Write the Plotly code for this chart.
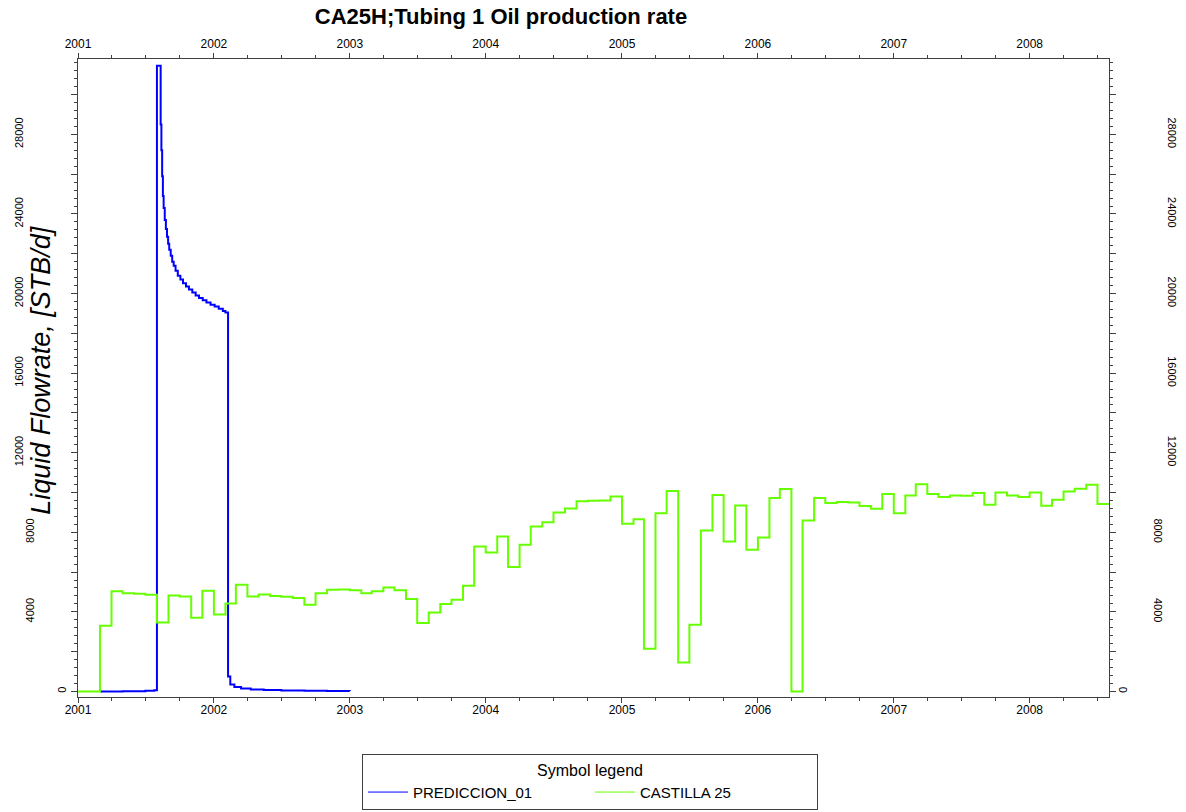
import plotly.graph_objects as go

FONT = "Liberation Sans, Arial, sans-serif"

# PREDICCION_01 - simulated oil rate (STB/d), step data
pred_dates = ['2001-03-01', '2001-05-01', '2001-07-01', '2001-07-25', '2001-08-01',
              '2001-08-11', '2001-08-13', '2001-08-15', '2001-08-17', '2001-08-19',
              '2001-08-22', '2001-08-25', '2001-08-28', '2001-08-31', '2001-09-03',
              '2001-09-07', '2001-09-11', '2001-09-15', '2001-09-20', '2001-09-26',
              '2001-10-03', '2001-10-10', '2001-10-18', '2001-10-26', '2001-11-04',
              '2001-11-13', '2001-11-22', '2001-12-02', '2001-12-12', '2001-12-23',
              '2002-01-03', '2002-01-14', '2002-01-25', '2002-02-01', '2002-02-08',
              '2002-02-14', '2002-02-25', '2002-03-15', '2002-04-10', '2002-05-15',
              '2002-07-01', '2002-09-01', '2002-11-01', '2003-01-01']
pred_rate = [0, 10, 30, 60, 31450,
             28500, 27200, 25900, 24900, 24300,
             23700, 23250, 22850, 22500, 22200,
             21900, 21600, 21400, 21150, 20900,
             20700, 20520, 20350, 20200, 20050,
             19900, 19780, 19660, 19550, 19440,
             19350, 19230, 19120, 19050, 750,
             350, 220, 150, 100, 70,
             50, 35, 25, 20]

# CASTILLA 25 - monthly measured rate (STB/d)
hist_dates = ['2001-01-01', '2001-02-01', '2001-03-01', '2001-04-01', '2001-05-01', '2001-06-01',
              '2001-07-01', '2001-08-01', '2001-09-01', '2001-10-01', '2001-11-01', '2001-12-01',
              '2002-01-01', '2002-02-01', '2002-03-01', '2002-04-01', '2002-05-01', '2002-06-01',
              '2002-07-01', '2002-08-01', '2002-09-01', '2002-10-01', '2002-11-01', '2002-12-01',
              '2003-01-01', '2003-02-01', '2003-03-01', '2003-04-01', '2003-05-01', '2003-06-01',
              '2003-07-01', '2003-08-01', '2003-09-01', '2003-10-01', '2003-11-01', '2003-12-01',
              '2004-01-01', '2004-02-01', '2004-03-01', '2004-04-01', '2004-05-01', '2004-06-01',
              '2004-07-01', '2004-08-01', '2004-09-01', '2004-10-01', '2004-11-01', '2004-12-01',
              '2005-01-01', '2005-02-01', '2005-03-01', '2005-04-01', '2005-05-01', '2005-06-01',
              '2005-07-01', '2005-08-01', '2005-09-01', '2005-10-01', '2005-11-01', '2005-12-01',
              '2006-01-01', '2006-02-01', '2006-03-01', '2006-04-01', '2006-05-01', '2006-06-01',
              '2006-07-01', '2006-08-01', '2006-09-01', '2006-10-01', '2006-11-01', '2006-12-01',
              '2007-01-01', '2007-02-01', '2007-03-01', '2007-04-01', '2007-05-01', '2007-06-01',
              '2007-07-01', '2007-08-01', '2007-09-01', '2007-10-01', '2007-11-01', '2007-12-01',
              '2008-01-01', '2008-02-01', '2008-03-01', '2008-04-01', '2008-05-01', '2008-06-01',
              '2008-07-01', '2008-08-01']
hist_rate = [0, 0, 3300, 5030, 4940, 4910, 4860, 3470, 4820, 4770, 3700, 5060,
             3870, 4420, 5360, 4770, 4870, 4800, 4760, 4700, 4360, 4930, 5110, 5120,
             5080, 4940, 5030, 5230, 5080, 4640, 3440, 3970, 4390, 4610, 5310, 7290,
             6980, 7790, 6250, 7370, 8290, 8510, 9000, 9200, 9560, 9580, 9600, 9800,
             8430, 8660, 2150, 8960, 10080, 1460, 3350, 8090, 9880, 7540, 9350, 7120,
             7740, 9720, 10170, 0, 8590, 9720, 9470, 9520, 9500, 9320, 9180, 9920,
             8960, 9850, 10420, 9920, 9770, 9850, 9840, 9970, 9380, 10000, 9850, 9770,
             10000, 9330, 9630, 10050, 10190, 10390, 9420, 9420]

x_range = ['2001-01-01', '2008-08-01']
y_range = [-280, 31790]
y_tick_vals = [0, 2000, 4000, 6000, 8000, 10000, 12000, 14000, 16000,
               18000, 20000, 22000, 24000, 26000, 28000, 30000]
# labelled values, grouped by label length (the labels sit at different offsets)
y_lab_long = [12000, 16000, 20000, 24000, 28000]
y_lab_mid = [4000, 8000]
y_lab_zero = [0]

AX = '#404040'
BLUE = '#0000ff'
GREEN = '#66ff00'

fig = go.Figure()
fig.add_trace(go.Scatter(x=pred_dates, y=pred_rate, name='PREDICCION_01', mode='lines',
                         line=dict(color=BLUE, width=2, shape='hv'), showlegend=False))
fig.add_trace(go.Scatter(x=hist_dates, y=hist_rate, name='CASTILLA 25', mode='lines',
                         line=dict(color=GREEN, width=2, shape='hv'), showlegend=False))
# legend entries use a thin line, like the original symbol legend
fig.add_trace(go.Scatter(x=[None], y=[None], name='PREDICCION_01', mode='lines',
                         line=dict(color=BLUE, width=1)))
fig.add_trace(go.Scatter(x=[None], y=[None], name='CASTILLA 25', mode='lines',
                         line=dict(color=GREEN, width=1)))
# empty traces so the mirrored / label-only axes get drawn
for ya in ['y2', 'y3', 'y4', 'y5', 'y6', 'y7', 'y8']:
    xa = 'x2' if ya == 'y2' else 'x'
    fig.add_trace(go.Scatter(x=[], y=[], xaxis=xa, yaxis=ya, showlegend=False, hoverinfo='skip'))

xcommon = dict(type='date', range=x_range, tickformat='%Y', dtick='M12', tick0='2001-01-01',
               showline=True, linecolor=AX, linewidth=1, showgrid=False, zeroline=False,
               ticks='outside', ticklen=5, tickcolor=AX,
               minor=dict(dtick='M3', ticks='outside', ticklen=3, tickcolor=AX, showgrid=False),
               tickfont=dict(family=FONT, size=12, color='#000'))
ycommon = dict(range=y_range, tickmode='array', tickvals=y_tick_vals,
               ticktext=[''] * len(y_tick_vals),
               showline=True, linecolor=AX, linewidth=1, showgrid=False, zeroline=False,
               ticks='outside', ticklen=6, tickcolor=AX,
               minor=dict(dtick=400, tick0=0, ticks='outside', ticklen=3, tickcolor=AX, showgrid=False))


def label_axis(vals, side, standoff):
    return dict(range=y_range, tickmode='array', tickvals=vals, ticktext=[str(v) for v in vals],
                overlaying='y', anchor='x', side=side, showline=False, showgrid=False,
                zeroline=False, ticks='', tickangle=-90 if side == 'left' else 90,
                ticklabelstandoff=standoff, automargin=False,
                tickfont=dict(family=FONT, size=11, color='#000'))


fig.update_layout(
    width=1186, height=812,
    paper_bgcolor='white', plot_bgcolor='white',
    margin=dict(l=78, r=77, t=59, b=115),
    showlegend=True,
    title=dict(text='CA25H;Tubing 1 Oil production rate', x=501 / 1186, xref='container',
               xanchor='center', y=1 - 16 / 812, yanchor='middle',
               font=dict(family=FONT, size=22, color='#000', weight='bold')),
    xaxis=dict(**xcommon, side='bottom', anchor='y', ticklabelstandoff=-3),
    xaxis2=dict(**xcommon, side='top', overlaying='x', anchor='y'),
    yaxis=dict(**ycommon, side='left', anchor='x'),
    yaxis2=dict(**ycommon, side='right', overlaying='y', anchor='x'),
    yaxis3=label_axis(y_lab_long, 'left', 52),
    yaxis4=label_axis(y_lab_mid, 'left', 41),
    yaxis5=label_axis(y_lab_zero, 'left', 9),
    yaxis6=label_axis(y_lab_long, 'right', 56),
    yaxis7=label_axis(y_lab_mid, 'right', 42),
    yaxis8=label_axis(y_lab_zero, 'right', 7),
    legend=dict(orientation='h', xref='container', yref='container',
                x=362 / 1186, xanchor='left', y=1 - 754 / 812, yanchor='top',
                bordercolor=AX, borderwidth=1, bgcolor='white',
                title=dict(text='Symbol legend', side='top center',
                           font=dict(family=FONT, size=16, color='#000')),
                font=dict(family=FONT, size=15, color='#000'),
                itemwidth=40, entrywidth=172),
    annotations=[dict(text='<i>Liquid Flowrate, [STB/d]</i>', xref='paper', yref='paper',
                      x=(41 - 78) / 1031.3, y=(697.3 - 370) / 638.3,
                      xanchor='center', yanchor='middle',
                      textangle=-90, showarrow=False,
                      font=dict(family=FONT, size=27, color='#000'))],
)

fig.write_html("out.html", config={'displayModeBar': False},
               post_script="document.body.style.margin='0';")
